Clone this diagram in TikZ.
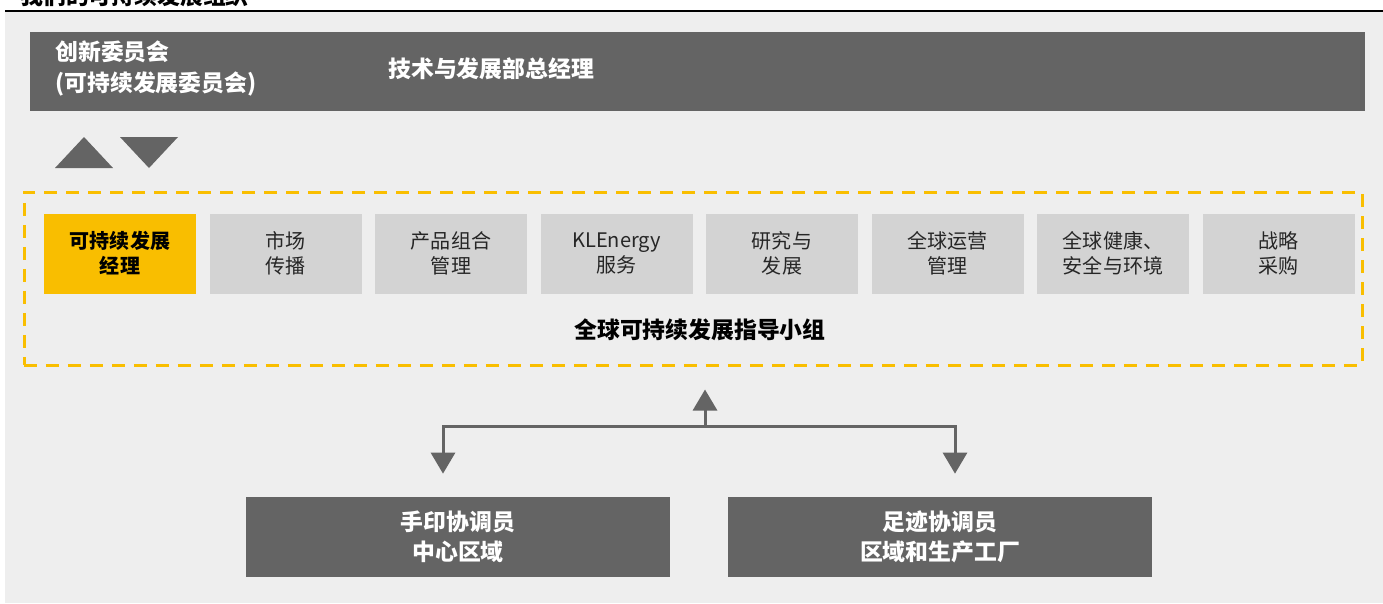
\documentclass[tikz,border=0pt]{standalone}
\usepackage{fontspec}
\newfontfamily\cjk{Noto Sans CJK SC}
\usepackage{tikz}
\usetikzlibrary{positioning}
\usetikzlibrary{arrows.meta}
\definecolor{darkbar}{HTML}{646464}
\definecolor{lightbox}{HTML}{D3D3D3}
\definecolor{ambe}{HTML}{F9BE00}
\definecolor{panel}{HTML}{EEEEEE}
\tikzstyle{topbar} = [rectangle, fill=darkbar, minimum width=26.7cm, minimum height=1.58cm, inner sep=0pt]
\tikzstyle{barlabel} = [text=white, font=\cjk\bfseries\fontsize{13}{18}\selectfont, align=left, inner sep=0pt]
\tikzstyle{dept} = [rectangle, fill=lightbox, minimum width=3.04cm, minimum height=1.6cm, inner sep=0pt, outer sep=0pt, text=black!85, font=\cjk\fontsize{11.4}{14.2}\selectfont, align=center]
\tikzstyle{lead} = [dept, fill=ambe, text=black, font=\cjk\bfseries\fontsize{11.4}{14.2}\selectfont]
\tikzstyle{guide} = [rectangle, draw=ambe, line width=0.06cm, dash pattern=on 0.26cm off 0.18cm, minimum width=26.76cm, minimum height=3.46cm]
\tikzstyle{coord} = [rectangle, fill=darkbar, minimum width=8.48cm, minimum height=1.6cm, inner sep=0pt, text=white, font=\cjk\bfseries\fontsize{13}{17}\selectfont, align=center]
\tikzstyle{link} = [draw=darkbar, line width=0.06cm, -{Triangle[width=0.48cm,length=0.42cm]}, shorten >=0.46cm]

\begin{document}
\begin{tikzpicture}
	% canvas
	\useasboundingbox[fill=white] (0,0) rectangle (27.66,-12.06);
	\fill[panel] (0.1,-0.24) rectangle (27.66,-12.06);
	\draw[black, line width=0.04cm] (0.1,-0.22) -- (27.66,-0.22);
	\begin{scope}
		\clip (0,0) rectangle (27.66,-0.2);
		\node [anchor=base west, inner sep=0pt, font=\cjk\bfseries\fontsize{13}{16}\selectfont] (T0) at (0.4,-0.09) {我们的可持续发展组织};
	\end{scope}

	% top bar
	\node [topbar] (B0) at (13.95,-1.43) {};
	\node [barlabel, anchor=west] (B1) at (1.1,-1.37) {创新委员会\\(可持续发展委员会)};
	\node [barlabel, anchor=west] (B2) at (7.76,-1.38) {技术与发展部总经理};

	% triangles
	\fill[darkbar] (1.1,-3.36) -- (2.26,-3.36) -- (1.68,-2.74) -- cycle;
	\fill[darkbar] (2.4,-2.74) -- (3.56,-2.74) -- (2.98,-3.36) -- cycle;

	% steering group
	\node [guide] (G0) at (13.86,-5.57) {};
	\node [lead] (D1) at (2.4,-5.07) {可持续发展\\经理};
	\node [dept, right=0.27cm of D1] (D2) {市场\\传播};
	\node [dept, right=0.27cm of D2] (D3) {产品组合\\管理};
	\node [dept, right=0.27cm of D3] (D4) {KLEnergy\\服务};
	\node [dept, right=0.27cm of D4] (D5) {研究与\\发展};
	\node [dept, right=0.27cm of D5] (D6) {全球运营\\管理};
	\node [dept, right=0.27cm of D6] (D7) {全球健康、\\安全与环境};
	\node [dept, right=0.27cm of D7] (D8) {战略\\采购};
	\node [font=\cjk\bfseries\fontsize{13}{16}\selectfont] (G1) at (14.0,-6.6) {全球可持续发展指导小组};

	% coordinators
	\node [coord] (C1) at (9.16,-10.74) {手印协调员\\中心区域};
	\node [coord] (C2) at (18.8,-10.74) {足迹协调员\\区域和生产工厂};

	% draw edges
	\coordinate (J0) at (14.1,-8.52);
	\path [link] (J0) -- (J0 |- G0.south);
	\path [link] (J0) -| ([xshift=-0.3cm]C1.north);
	\path [link] (J0) -| ([xshift=0.3cm]C2.north);
\end{tikzpicture}
\end{document}
